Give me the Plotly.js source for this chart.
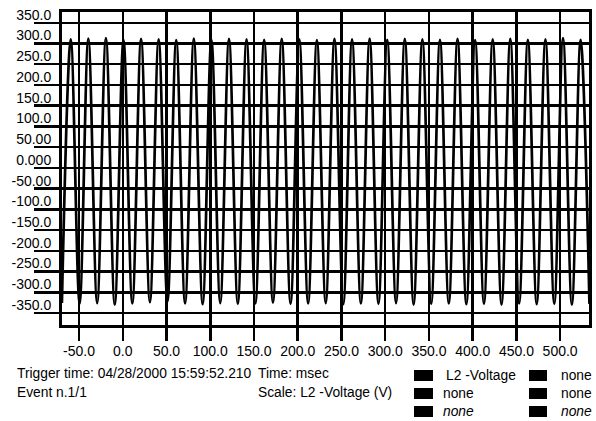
<!DOCTYPE html>
<html><head><meta charset="utf-8">
<script src="https://cdn.plot.ly/plotly-3.0.1.min.js"></script>
<style>html,body{margin:0;padding:0;background:#fff;}#chart{width:596px;height:421px;}</style>
</head><body><div id="chart"></div>
<script>
// ---- data ----
const peakTimes = [-59.5, -39.4, -19.3, 0.8, 20.9, 41.0, 61.1, 81.2, 101.3, 121.4, 141.5, 161.6, 181.7, 201.8, 221.9,
  242.0, 262.1, 282.2, 302.3, 322.4, 342.5, 362.6, 382.7, 402.8, 422.9, 443.0, 463.1, 483.2, 503.3, 523.4];
const peakVolts = [310, 312, 313, 309, 311, 310, 308, 312, 309, 311, 310, 309, 311, 310, 308,
  311, 310, 312, 309, 311, 310, 309, 311, 308, 310, 311, 309, 310, 313, 309];
const troughTimes = [-69.6, -49.4, -29.3, -9.2, 10.9, 31.0, 51.1, 71.2, 91.3, 111.4, 131.5, 151.6, 171.7, 191.8, 211.9,
  232.0, 252.1, 272.2, 292.3, 312.4, 332.5, 352.6, 372.7, 392.8, 412.9, 433.0, 453.1, 473.2, 493.3, 513.4, 533.5];
const troughVolts = [-326, -328, -326, -330, -327, -324, -322, -327, -329, -326, -328, -327, -325, -328, -327,
  -326, -329, -327, -328, -326, -330, -328, -327, -329, -328, -330, -327, -329, -328, -330, -328];

const xTickVals = [-50, 0, 50, 100, 150, 200, 250, 300, 350, 400, 450, 500];
const xTickText = ["-50.0", "0.0", "50.0", "100.0", "150.0", "200.0", "250.0", "300.0", "350.0", "400.0", "450.0", "500.0"];
const yTickVals = [350, 300, 250, 200, 150, 100, 50, 0, -50, -100, -150, -200, -250, -300, -350];
const yTickText = ["350.0", "300.0", "250.0", "200.0", "150.0", "100.0", "50.00", "0.000", "-50.00", "-100.0",
  "-150.0", "-200.0", "-250.0", "-300.0", "-350.0"];

const infoLines = ["Trigger time: 04/28/2000 15:59:52.210", "Time: msec", "Event n.1/1", "Scale: L2 -Voltage (V)"];
const legendCol1 = ["L2 -Voltage", "none", "<i>none</i>"];
const legendCol2 = ["none", "none", "<i>none</i>"];

// ---- merge extremes into one time-ordered series ----
const pts = [];
peakTimes.forEach((t, i) => pts.push([t, peakVolts[i]]));
troughTimes.forEach((t, i) => pts.push([t, troughVolts[i]]));
pts.sort((a, b) => a[0] - b[0]);
const tAll = pts.map(p => p[0]);
const vAll = pts.map(p => p[1]);

// ---- layout helpers (pixel -> paper) ----
const W = 596, H = 421;
const L = 62, R = 7, T = 12, B = 96;
const PW = W - L - R, PH = H - T - B;
const px = x => (x - L) / PW;
const py = y => (H - B - y) / PH;

const FONT = {family: "Liberation Sans, Arial, sans-serif", size: 14, color: "#000"};
const NOTE_FONT = {family: "Liberation Sans, Arial, sans-serif", size: 13.8, color: "#000"};

const annotations = [];
const addText = (text, x, y) => annotations.push({
  text: text, x: px(x), y: py(y), xref: "paper", yref: "paper",
  xanchor: "left", yanchor: "middle", showarrow: false, borderpad: 0, font: NOTE_FONT
});
addText(infoLines[0], 16, 373);
addText(infoLines[1], 257, 373);
addText(infoLines[2], 16, 392);
addText(infoLines[3], 257, 392);

const rowY = [375, 393, 411];
const boxTop = [370, 388, 406];
const shapes = [];
rowY.forEach((y, i) => {
  addText(legendCol1[i], i === 0 ? 445 : 442, y);
  addText(legendCol2[i], 560, y);
  [[414, 433], [529, 547]].forEach(([a, b]) => shapes.push({
    type: "rect", xref: "paper", yref: "paper",
    x0: px(a), x1: px(b), y0: py(boxTop[i] + 11), y1: py(boxTop[i]),
    fillcolor: "#000", line: {width: 0}
  }));
});

const axisCommon = {
  tickmode: "array", showgrid: true, gridcolor: "#000", gridwidth: 2.5,
  showline: true, mirror: true, linecolor: "#000", linewidth: 3,
  ticks: "outside", tickcolor: "#000", tickwidth: 2.5,
  zeroline: false, tickfont: FONT, fixedrange: true
};

const trace = {
  x: tAll, y: vAll, type: "scatter", mode: "lines",
  line: {color: "#000", width: 2.7, shape: "spline", smoothing: 1},
  hoverinfo: "skip", showlegend: false
};

const layout = {
  width: W, height: H,
  margin: {l: L, r: R, t: T, b: B, pad: 0},
  paper_bgcolor: "#fff", plot_bgcolor: "#fff",
  font: FONT, showlegend: false,
  xaxis: Object.assign({}, axisCommon, {
    range: [-69.5, 533], tickvals: xTickVals, ticktext: xTickText, ticklen: 13,
    ticklabelstandoff: -2
  }),
  yaxis: Object.assign({}, axisCommon, {
    range: [-379, 376], tickvals: yTickVals, ticktext: yTickText, ticklen: 25,
    ticklabelstandoff: -20, ticklabelshift: -8
  }),
  annotations: annotations,
  shapes: shapes
};

Plotly.newPlot("chart", [trace], layout, {displayModeBar: false, staticPlot: true});
</script>
</body></html>
